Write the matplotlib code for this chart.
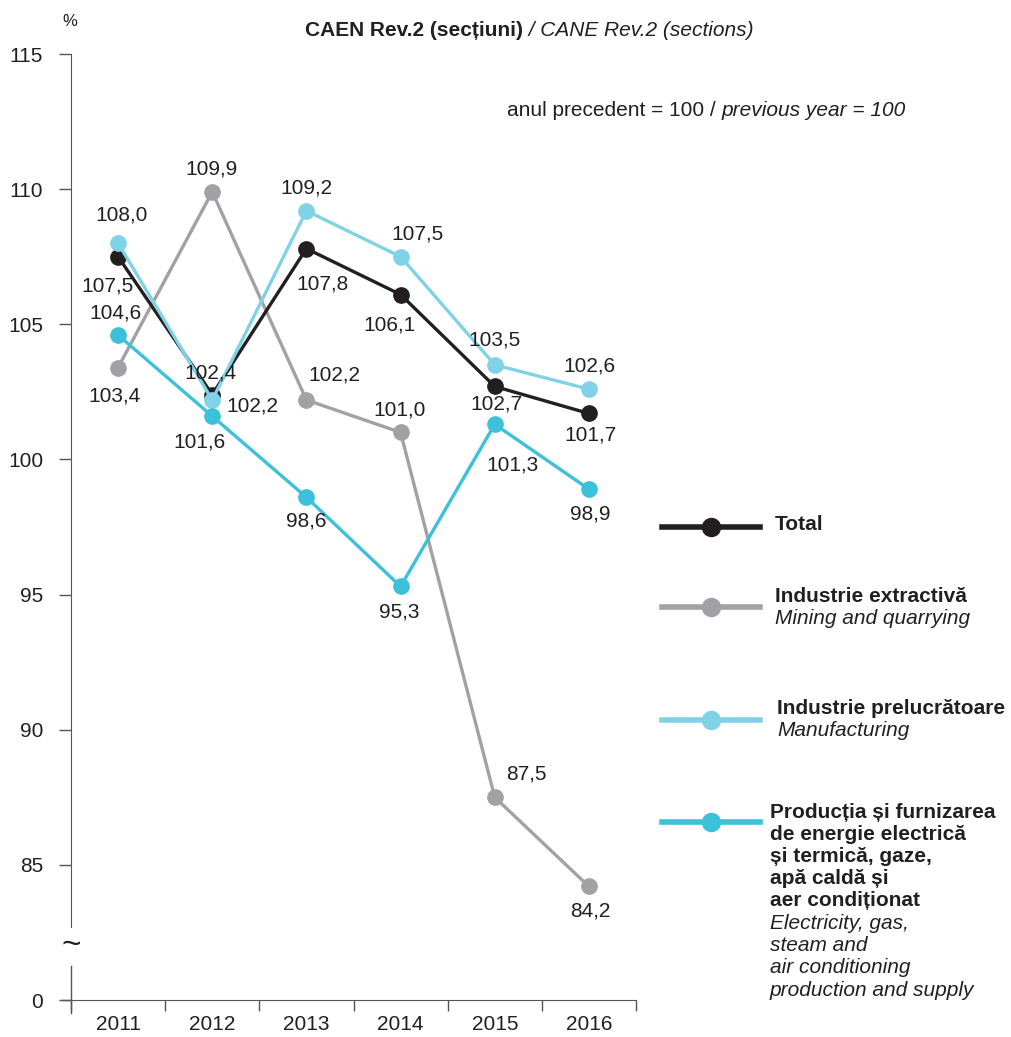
import numpy as np
import matplotlib
matplotlib.use("Agg")
import matplotlib.pyplot as plt

plt.rcParams["font.family"] = ["Liberation Sans", "DejaVu Sans"]

# -------------------------------
# Data
# -------------------------------
years = ["2011", "2012", "2013", "2014", "2015", "2016"]

total = [107.5, 102.4, 107.8, 106.1, 102.7, 101.7]
mining = [103.4, 109.9, 102.2, 101.0, 87.5, 84.2]
manufacturing = [108.0, 102.2, 109.2, 107.5, 103.5, 102.6]
energy = [104.6, 101.6, 98.6, 95.3, 101.3, 98.9]

y_ticks = [80, 85, 90, 95, 100, 105, 110, 115]
y_tick_labels = ["0", "85", "90", "95", "100", "105", "110", "115"]

# label offsets in pixels (dx, dy) for each point
total_off = [(-11, -29), (-2, 22), (16, -35), (-11, -30), (2, -18), (2, -22)]
mining_off = [(-4, -28), (-1, 23), (28, 25), (-1, 22), (32, 23), (1, -25)]
manuf_off = [(3, 28), (40, -6), (0, 23), (17, 23), (0, 25), (1, 23)]
energy_off = [(-3, 22), (-13, -26), (0, -24), (-1, -26), (18, -41), (1, -25)]

BLACK = "#231f20"
GRAY = "#a2a2a6"
LIGHT = "#80d2e6"
CYAN = "#3cc1da"
AXIS = "#555555"
FS = 15

W, H = 1011, 1037
fig = plt.figure(figsize=(W / 100, H / 100), dpi=100)
ax = fig.add_axes([71 / W, 1 - 1000 / H, (636 - 71) / W, (1000 - 54) / H])

x = np.arange(len(years))

series = [
    (mining, GRAY, mining_off, 2),
    (total, BLACK, total_off, 3),
    (manufacturing, LIGHT, manuf_off, 4),
    (energy, CYAN, energy_off, 5),
]

for vals, color, offs, z in series:
    ax.plot(x, vals, color=color, lw=2.4, marker="o", ms=11, zorder=z)
    for xi, v, (dx, dy) in zip(x, vals, offs):
        ax.annotate(f"{v:.1f}".replace(".", ","), (xi, v), xytext=(dx, dy),
                    textcoords="offset pixels", ha="center", va="center",
                    fontsize=FS, color=BLACK, zorder=10)

ax.set_xlim(-0.5, len(years) - 0.5)
ax.set_ylim(80, 115)

ax.set_xticks(x)
ax.set_xticklabels(years, fontsize=FS, color=BLACK)
ax.set_xticks(np.arange(-0.5, len(years), 1), minor=True)
ax.tick_params(axis="x", which="major", length=0, pad=11)
ax.tick_params(axis="x", which="minor", length=8, width=1, color=AXIS,
               direction="out")

ax.set_yticks(y_ticks)
ax.set_yticklabels(y_tick_labels, fontsize=FS, color=BLACK)
ax.tick_params(axis="y", length=9, width=1, color=AXIS, pad=11)

for s in ["top", "right"]:
    ax.spines[s].set_visible(False)
ax.spines["bottom"].set_color(AXIS)
ax.spines["left"].set_color(AXIS)
ax.spines["left"].set_bounds(82.7, 115)
# lower stub of the broken axis, crossing the x axis
ax.plot([-0.5, -0.5], [79.52, 81.26], color=AXIS, lw=1, clip_on=False)
ax.text(-0.5, 82.0, "~", ha="center", va="center", fontsize=24, color=BLACK)
ax.plot([-0.6, -0.5], [80, 80], color=AXIS, lw=1, clip_on=False)

# -------------------------------
# Titles
# -------------------------------
fig.text(70 / W, 1 - 22 / H, "%", ha="center", va="center", fontsize=12, color=BLACK)
t1 = fig.text(305 / W, 1 - 31 / H, "CAEN Rev.2 (secțiuni)", ha="left", va="center",
              fontsize=FS, fontweight="bold", color=BLACK)
ax.annotate(" / CANE Rev.2 (sections)", xy=(1, 0.5), xycoords=t1, ha="left",
            va="center", fontsize=FS, style="italic", color=BLACK,
            annotation_clip=False)
t2 = fig.text(507 / W, 1 - 111 / H, "anul precedent = 100 / ", ha="left", va="center",
              fontsize=FS, color=BLACK)
ax.annotate("previous year = 100", xy=(1, 0.5), xycoords=t2, ha="left",
            va="center", fontsize=FS, style="italic", color=BLACK,
            annotation_clip=False)

# -------------------------------
# Legend (drawn by hand)
# -------------------------------
legend_items = [
    (BLACK, 527, 525, 775, ["Total"], []),
    (GRAY, 607, 596, 775, ["Industrie extractivă"], ["Mining and quarrying"]),
    (LIGHT, 720, 708, 777, ["Industrie prelucrătoare"], ["Manufacturing"]),
    (CYAN, 822, 812, 770, ["Producția și furnizarea", "de energie electrică",
                           "și termică, gaze,", "apă caldă și", "aer condiționat"],
     ["Electricity, gas,", "steam and", "air conditioning",
      "production and supply"]),
]

for color, ypix, ytxt, xtxt, bold_lines, ital_lines in legend_items:
    yf = 1 - ypix / H
    fig.add_artist(plt.Line2D([662 / W, 760 / W], [yf, yf], color=color, lw=4))
    fig.add_artist(plt.Line2D([711 / W], [yf], color=color, marker="o", ms=13))
    gap = 22.25 if len(bold_lines) > 1 else 22
    for line in bold_lines:
        fig.text(xtxt / W, 1 - ytxt / H, line, ha="left", va="center",
                 fontsize=FS, fontweight="bold", color=BLACK)
        ytxt += gap
    for line in ital_lines:
        fig.text(xtxt / W, 1 - ytxt / H, line, ha="left", va="center",
                 fontsize=FS, style="italic", color=BLACK)
        ytxt += gap

fig.savefig("out.png", dpi=100)
